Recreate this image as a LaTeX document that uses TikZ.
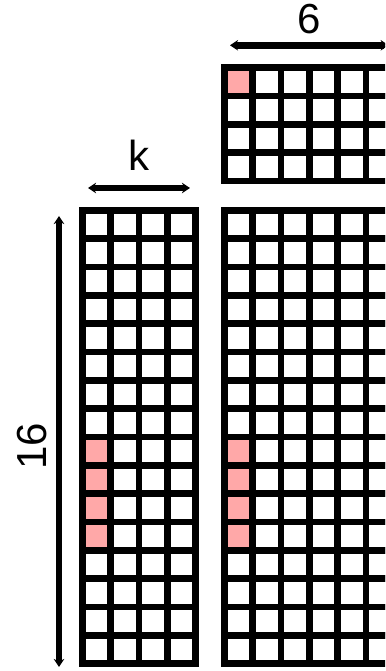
\documentclass[tikz,border=0pt]{standalone}
\usepackage{fontspec}
\setmainfont{Liberation Sans}
\usetikzlibrary{arrows.meta, positioning}
\definecolor{cellpink}{RGB}{255,168,168}

\begin{document}
\begin{tikzpicture}[
  x=1pt, y=1pt,
  >={Stealth[length=8pt, width=10.5pt]},
  gridbox/.style={
    inner sep=0pt,
    outer sep=0pt,
    anchor=north west,
  },
  cell/.style={
    draw=black,
    line width=6.67pt,
    fill=white,
  },
  hot/.style={
    fill=cellpink,
  },
  dim/.style={
    <->,
    line width=6.5pt,
  },
  dimlabel/.style={
    font=\fontsize{42}{50}\selectfont,
    inner sep=0pt,
  },
]

\useasboundingbox (0,0) rectangle (385,671);
\clip (0,0) rectangle (385,671);

% ============================================================
% GRID FRAMES
% ============================================================
\node[gridbox, minimum width=120pt, minimum height=460pt]
  (leftgrid) at (79, 464) {};
\node[gridbox, minimum width=176.67pt, minimum height=460pt]
  (maingrid) at (221, 464) {};
\node[gridbox, minimum width=176.67pt, minimum height=120pt]
  (topgrid) at (221, 606.7) {};

% ============================================================
% LEFT GRID: 16 x k
% ============================================================
\begin{scope}[shift={(leftgrid.north west)}]
  \foreach \c in {0,...,3}
    \foreach \r in {0,...,15}
      \draw[cell] (3.33+\c*28.33, -3.33-\r*28.33) rectangle ++(28.33, -28.33);
  \foreach \r in {8,...,11}
    \fill[hot] (6.67, -6.67-\r*28.33) rectangle ++(21.67, -21.67);
\end{scope}

% ============================================================
% MAIN GRID: 16 x 6
% ============================================================
\begin{scope}[shift={(maingrid.north west)}]
  \foreach \c in {0,...,5}
    \foreach \r in {0,...,15}
      \draw[cell] (3.33+\c*28.33, -3.33-\r*28.33) rectangle ++(28.33, -28.33);
  \foreach \r in {8,...,11}
    \fill[hot] (6.67, -6.67-\r*28.33) rectangle ++(21.67, -21.67);
\end{scope}

% ============================================================
% TOP GRID: k x 6
% ============================================================
\begin{scope}[shift={(topgrid.north west)}]
  \foreach \c in {0,...,5}
    \foreach \r in {0,...,3}
      \draw[cell] (3.33+\c*28.33, -3.33-\r*28.33) rectangle ++(28.33, -28.33);
  \fill[hot] (6.67, -6.67) rectangle ++(21.67, -21.67);
\end{scope}

% ============================================================
% DIMENSION ARROWS
% ============================================================
\draw[dim] ([shift={(9,19)}]leftgrid.north west) --
  ([shift={(-9,19)}]leftgrid.north east)
  node[dimlabel, midway, above=14.5pt] {k};

\draw[dim] ([shift={(9,19)}]topgrid.north west) --
  ([shift={(-9,19)}]topgrid.north east)
  node[dimlabel, midway, above=8.5pt] {6};

\draw[dim] ([shift={(-20,-9)}]leftgrid.north west) --
  ([shift={(-20,0)}]leftgrid.south west)
  node[dimlabel, midway, xshift=-9pt, yshift=-5pt, anchor=south, rotate=90] {16};

\end{tikzpicture}
\end{document}
